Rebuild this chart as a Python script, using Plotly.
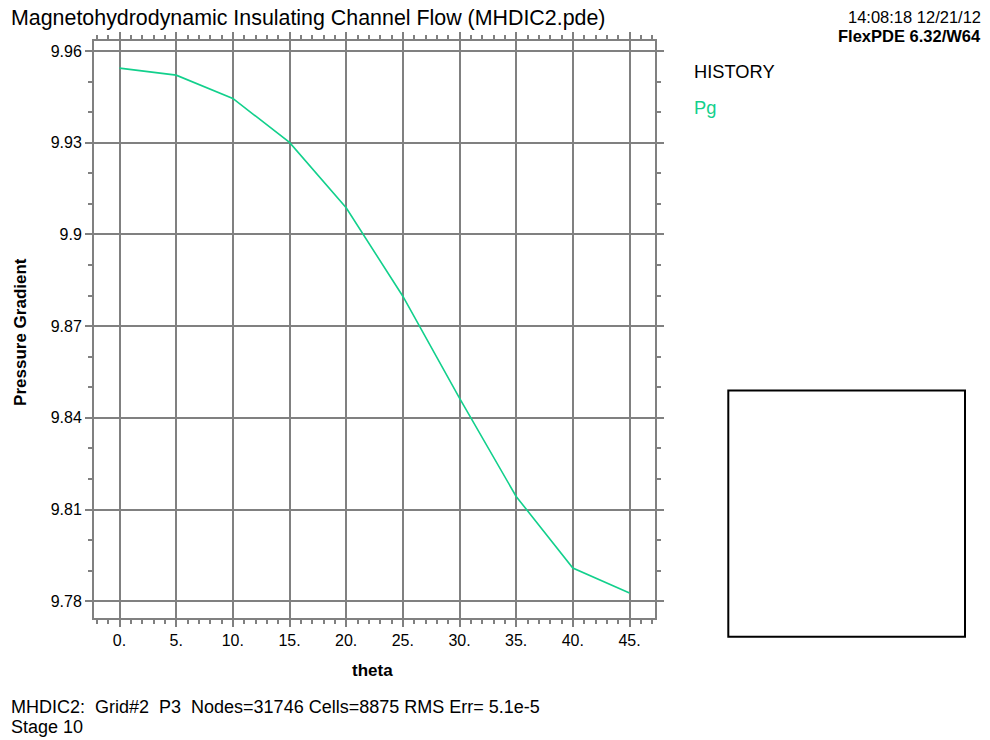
import plotly.graph_objects as go

# History of the pressure gradient Pg versus the field angle theta
theta = [0, 5, 10, 15, 20, 25, 30, 35, 40, 45]
pg = [9.9544, 9.9521, 9.9445, 9.9301, 9.9087, 9.8798, 9.8465, 9.8143, 9.7909, 9.7827]

x_tickvals = [0, 5, 10, 15, 20, 25, 30, 35, 40, 45]
x_ticktext = ["0.", "5.", "10.", "15.", "20.", "25.", "30.", "35.", "40.", "45."]
y_tickvals = [9.78, 9.81, 9.84, 9.87, 9.90, 9.93, 9.96]
y_ticktext = ["9.78", "9.81", "9.84", "9.87", "9.9", "9.93", "9.96"]

FONT = "Liberation Sans, Arial, Helvetica, sans-serif"
GRID = "#808080"
LINE = "#12D08C"

# plot-area geometry in pixels (used to place the page furniture)
W, H = 990, 740
L, R, T, B = 94, 655, 40.7, 618.5


def px(x):
    return (x - L) / (R - L)


def py(y):
    return (B - y) / (B - T)


fig = go.Figure()
fig.add_trace(go.Scatter(
    x=theta, y=pg, mode="lines",
    line=dict(color=LINE, width=1.6),
    showlegend=False, hoverinfo="skip",
))

axis_common = dict(
    showline=True, linecolor=GRID, linewidth=2, mirror="allticks",
    showgrid=True, gridcolor=GRID, gridwidth=2,
    ticks="outside", tickcolor=GRID, tickwidth=2, ticklen=7,
    tickfont=dict(family=FONT, size=16, color="#000000"),
    zeroline=False, fixedrange=True,
)

fig.update_xaxes(
    range=[-2.25, 47.25],
    tickmode="array", tickvals=x_tickvals, ticktext=x_ticktext,
    minor=dict(dtick=1, tick0=0, ticks="outside", ticklen=4,
               tickcolor=GRID, tickwidth=2, showgrid=False),
    **axis_common,
)
fig.update_yaxes(
    range=[9.77455, 9.96327],
    tickmode="array", tickvals=y_tickvals, ticktext=y_ticktext,
    minor=dict(dtick=0.01, tick0=9.78, ticks="outside", ticklen=4,
               tickcolor=GRID, tickwidth=2, showgrid=False),
    **axis_common,
)

annotations = [
    dict(text="Magnetohydrodynamic Insulating Channel Flow (MHDIC2.pde)",
         x=px(9), y=py(18), xanchor="left", yanchor="middle",
         font=dict(family=FONT, size=21.4, color="#000000")),
    dict(text="14:08:18 12/21/12",
         x=px(983), y=py(17), xanchor="right", yanchor="middle",
         font=dict(family=FONT, size=16.5, color="#000000")),
    dict(text="<b>FlexPDE 6.32/W64</b>",
         x=px(983), y=py(36), xanchor="right", yanchor="middle",
         font=dict(family=FONT, size=16.5, color="#000000")),
    dict(text="HISTORY",
         x=px(692), y=py(71), xanchor="left", yanchor="middle",
         font=dict(family=FONT, size=18.3, color="#000000")),
    dict(text="Pg",
         x=px(692), y=py(107), xanchor="left", yanchor="middle",
         font=dict(family=FONT, size=18.3, color=LINE)),
    dict(text="<b>Pressure Gradient</b>",
         x=px(21), y=py(332), xanchor="center", yanchor="middle", textangle=-90,
         font=dict(family=FONT, size=17, color="#000000")),
    dict(text="<b>theta</b>",
         x=px(372), y=py(671), xanchor="center", yanchor="middle",
         font=dict(family=FONT, size=17, color="#000000")),
    dict(text="MHDIC2:\u00a0\u00a0Grid#2\u00a0\u00a0P3\u00a0\u00a0Nodes=31746 Cells=8875 RMS Err= 5.1e-5",
         x=px(9), y=py(708), xanchor="left", yanchor="middle",
         font=dict(family=FONT, size=18, color="#000000")),
    dict(text="Stage 10",
         x=px(9), y=py(728), xanchor="left", yanchor="middle",
         font=dict(family=FONT, size=18, color="#000000")),
]
for a in annotations:
    a.update(xref="paper", yref="paper", showarrow=False)

fig.update_layout(
    width=W, height=H,
    margin=dict(l=L, r=W - R, t=T, b=H - B, pad=0),
    paper_bgcolor="#ffffff", plot_bgcolor="#ffffff",
    annotations=annotations,
    shapes=[dict(type="rect", xref="paper", yref="paper",
                 x0=px(728.3), x1=px(965), y0=py(637.3), y1=py(390.7),
                 line=dict(color="#000000", width=2), fillcolor="rgba(0,0,0,0)")],
    showlegend=False,
)

fig.write_html("out.html", config={"displayModeBar": False})
